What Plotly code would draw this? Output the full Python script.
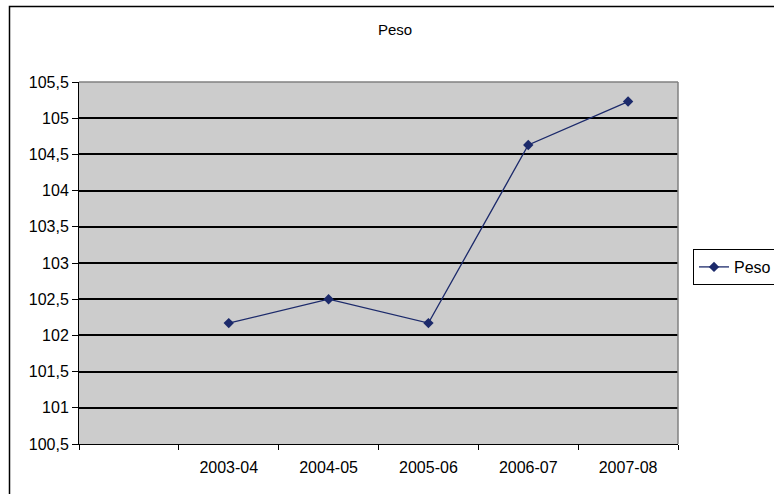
import plotly.graph_objects as go

# Annual weight readings per season
seasons = ["2003-04", "2004-05", "2005-06", "2006-07", "2007-08"]
peso = [102.17, 102.5, 102.17, 104.63, 105.23]

# The category axis keeps one empty slot before the first season
n_slots = len(seasons) + 1
x_pos = [i + 1.5 for i in range(len(seasons))]

line_color = "#1c2a6b"
font_family = "Liberation Sans, Arial, sans-serif"

fig = go.Figure()
fig.add_trace(go.Scatter(
    x=x_pos,
    y=peso,
    mode="lines+markers",
    name="Peso",
    line=dict(color=line_color, width=1.3),
    marker=dict(symbol="diamond", size=8, color=line_color),
))

fig.update_layout(
    width=774,
    height=494,
    margin=dict(l=79, r=96, t=82, b=50, autoexpand=False),
    paper_bgcolor="white",
    plot_bgcolor="#cccccc",
    separators=",.",
    font=dict(family=font_family, size=16, color="black"),
    title=dict(
        text="Peso",
        x=395 / 774,
        xanchor="center",
        y=1 - 30 / 494,
        yanchor="middle",
        font=dict(family=font_family, size=15, color="black"),
    ),
    showlegend=True,
    legend=dict(
        x=(693 - 79) / 599,
        xanchor="left",
        y=(444 - 249) / 362,
        yanchor="top",
        bordercolor="black",
        borderwidth=1,
        bgcolor="white",
        font=dict(family=font_family, size=16, color="black"),
        itemwidth=30,
        tracegroupgap=0,
    ),
    xaxis=dict(
        range=[0, n_slots],
        tickvals=x_pos,
        ticktext=seasons,
        ticks="outside",
        ticklen=9,
        tickcolor="rgba(0,0,0,0)",
        showgrid=False,
        zeroline=False,
        showline=True,
        linecolor="black",
        linewidth=1,
        minor=dict(
            tickvals=list(range(n_slots + 1)),
            ticks="outside",
            ticklen=5,
            tickcolor="black",
            tickwidth=1,
            showgrid=False,
        ),
        tickfont=dict(family=font_family, size=16, color="black"),
        fixedrange=True,
    ),
    yaxis=dict(
        range=[100.5, 105.5],
        dtick=0.5,
        tick0=100.5,
        ticks="outside",
        ticklen=6,
        tickcolor="black",
        showgrid=True,
        gridcolor="black",
        gridwidth=1.5,
        zeroline=False,
        showline=True,
        linecolor="black",
        linewidth=1,
        tickfont=dict(family=font_family, size=16, color="black"),
        fixedrange=True,
    ),
    shapes=[
        # grey frame on the top and right of the plotting area
        dict(type="line", xref="paper", yref="paper", x0=0, x1=1, y0=1, y1=1,
             line=dict(color="#808080", width=1.5)),
        dict(type="line", xref="paper", yref="paper", x0=1, x1=1, y0=0, y1=1,
             line=dict(color="#808080", width=1.5)),
        # outer chart border
        dict(type="rect", xref="paper", yref="paper",
             x0=(9.5 - 79) / 599, x1=1.5,
             y0=-0.5, y1=(444 - 6.5) / 362,
             line=dict(color="black", width=1.5), fillcolor="rgba(0,0,0,0)"),
    ],
)

fig.write_html("out.html", config=dict(displayModeBar=False))
